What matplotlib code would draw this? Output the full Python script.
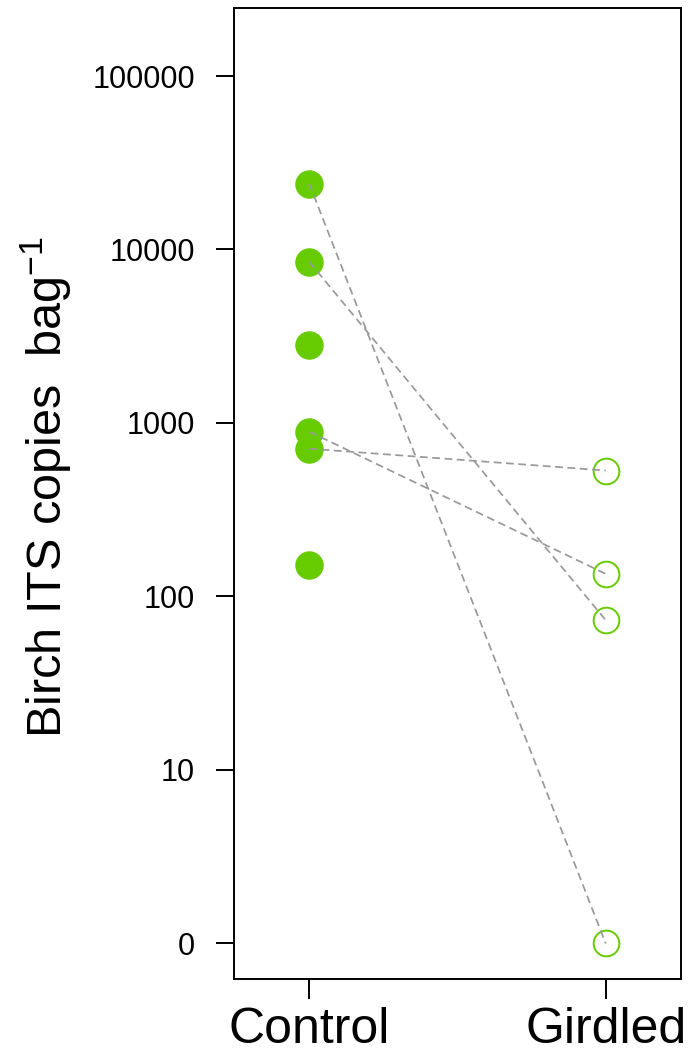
import numpy as np
import matplotlib.pyplot as plt

plt.rcParams["font.family"] = ["Liberation Sans", "DejaVu Sans"]
plt.rcParams["mathtext.fontset"] = "custom"
plt.rcParams["mathtext.rm"] = "Liberation Sans"
plt.rcParams["mathtext.default"] = "regular"

# copies per bag
control = np.array([23900, 8490, 2820, 890, 710, 150])
girdled = np.array([0, 72, 134, 531])
# which control bag each girdled bag is paired with
pair_idx = [0, 1, 3, 4]

groups = ["Control", "Girdled"]
tick_vals = [1, 10, 100, 1000, 10000, 100000]
tick_labels = ["0", "10", "100", "1000", "10000", "100000"]

green = "#66CC00"
grey = "#999999"


def tr(v):
    return np.log10(np.asarray(v, dtype=float) + 1)


fig = plt.figure(figsize=(6.88, 10.56), dpi=100)
ax = fig.add_axes([234 / 688, 77 / 1056, 447 / 688, 971 / 1056])

for i, g in zip(pair_idx, girdled):
    ax.plot([1, 2], [tr(control[i]), tr(g)], color=grey, lw=1.25,
            dashes=(4.5, 2.6), zorder=3)

ax.plot(np.full(len(control), 1), tr(control), "o", ms=19.5,
        color=green, mec=green, zorder=2)
ax.plot(np.full(len(girdled), 2), tr(girdled), "o", ms=18.5,
        mfc="none", mec=green, mew=1.4, zorder=2)

ax.set_xlim(0.746, 2.254)
ax.set_ylim(-0.205, 5.392)
ax.set_xticks([1, 2])
ax.set_xticklabels(groups, fontsize=36)
ax.set_yticks(np.log10(tick_vals))
ax.set_yticklabels(tick_labels, fontsize=22)
ax.tick_params(axis="y", length=13, width=1.4, pad=15)
ax.tick_params(axis="x", length=14.5, width=1.4, pad=6)
for s in ax.spines.values():
    s.set_linewidth(1.4)

fig.text(0.068, 0.539, "Birch ITS copies  bag$^{-1}$", rotation=90,
         ha="center", va="center", fontsize=35)

fig.savefig("out.png", dpi=100)
